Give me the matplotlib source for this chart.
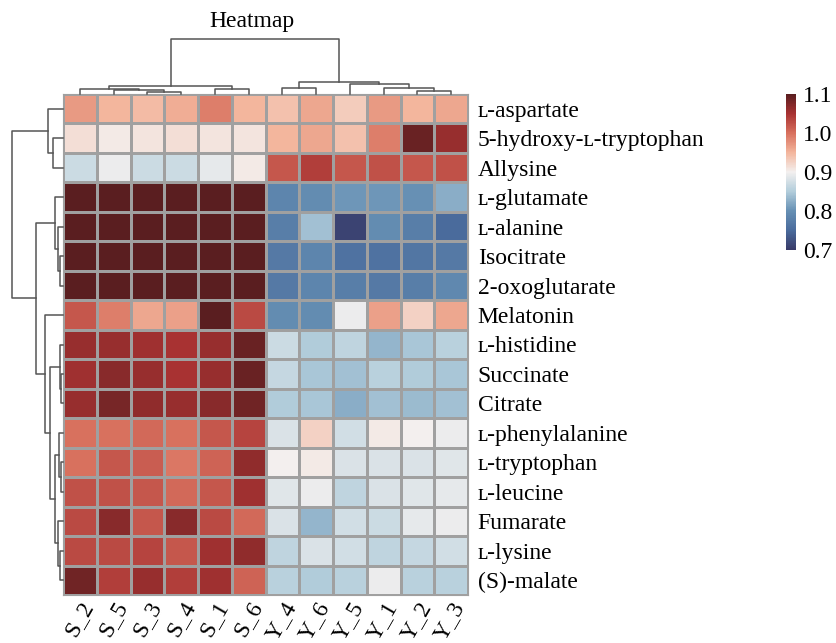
import numpy as np
import matplotlib
matplotlib.use("Agg")
import matplotlib.pyplot as plt
from matplotlib.colors import LinearSegmentedColormap, Normalize

# ---------------- data ----------------
columns = ["S_2", "S_5", "S_3", "S_4", "S_1", "S_6", "Y_4", "Y_6", "Y_5", "Y_1", "Y_2", "Y_3"]
rows = ["\u029F-aspartate", "5-hydroxy-\u029F-tryptophan", "Allysine", "\u029F-glutamate", "\u029F-alanine",
        "Isocitrate", "2-oxoglutarate", "Melatonin", "\u029F-histidine", "Succinate", "Citrate",
        "\u029F-phenylalanine", "\u029F-tryptophan", "\u029F-leucine", "Fumarate", "\u029F-lysine", "(S)-malate"]

aspartate     = [0.97, 0.95, 0.945, 0.955, 0.99, 0.95, 0.94, 0.96, 0.93, 0.97, 0.95, 0.96]
hydroxytrp    = [0.915, 0.905, 0.91, 0.915, 0.91, 0.91, 0.95, 0.96, 0.94, 0.99, 1.09, 1.06]
allysine      = [0.87, 0.895, 0.87, 0.87, 0.89, 0.905, 1.02, 1.04, 1.02, 1.025, 1.02, 1.025]
glutamate     = [1.10, 1.10, 1.10, 1.10, 1.12, 1.12, 0.785, 0.795, 0.805, 0.805, 0.80, 0.825]
alanine       = [1.12, 1.12, 1.12, 1.12, 1.12, 1.12, 0.775, 0.84, 0.71, 0.795, 0.775, 0.75]
isocitrate    = [1.12, 1.12, 1.12, 1.12, 1.12, 1.12, 0.77, 0.785, 0.76, 0.76, 0.765, 0.77]
oxoglutarate  = [1.12, 1.12, 1.12, 1.12, 1.12, 1.12, 0.77, 0.785, 0.775, 0.77, 0.775, 0.79]
melatonin     = [1.02, 0.99, 0.96, 0.965, 1.11, 1.03, 0.795, 0.795, 0.895, 0.965, 0.925, 0.96]
histidine     = [1.06, 1.06, 1.055, 1.05, 1.06, 1.09, 0.87, 0.85, 0.86, 0.83, 0.845, 0.855]
succinate     = [1.055, 1.07, 1.06, 1.05, 1.06, 1.09, 0.865, 0.845, 0.84, 0.855, 0.85, 0.845]
citrate       = [1.06, 1.08, 1.065, 1.06, 1.07, 1.085, 0.85, 0.845, 0.825, 0.84, 0.835, 0.84]
phenylalanine = [1.0, 1.0, 1.005, 1.0, 1.02, 1.035, 0.88, 0.925, 0.875, 0.905, 0.90, 0.895]
tryptophan    = [1.0, 1.02, 1.015, 0.995, 1.01, 1.065, 0.90, 0.905, 0.88, 0.88, 0.88, 0.885]
leucine       = [1.025, 1.025, 1.02, 1.005, 1.02, 1.055, 0.885, 0.895, 0.86, 0.88, 0.885, 0.89]
fumarate      = [1.03, 1.07, 1.02, 1.07, 1.03, 1.005, 0.88, 0.83, 0.875, 0.87, 0.89, 0.895]
lysine        = [1.03, 1.03, 1.035, 1.02, 1.055, 1.065, 0.86, 0.88, 0.875, 0.86, 0.865, 0.875]
malate        = [1.085, 1.04, 1.06, 1.04, 1.055, 1.01, 0.855, 0.85, 0.855, 0.895, 0.855, 0.855]

values = np.array([aspartate, hydroxytrp, allysine, glutamate, alanine, isocitrate, oxoglutarate,
                   melatonin, histidine, succinate, citrate, phenylalanine, tryptophan, leucine,
                   fumarate, lysine, malate])

# dendrogram trees: (left, right, merge height); leaves are indices into columns / rows
col_tree = ((0, (1, (2, 3, 0.04), 0.07), 0.09), (4, 5, 0.10), 0.145)
col_tree = (col_tree, ((6, 7, 0.11), (8, (9, (10, 11, 0.055), 0.11), 0.18), 0.22), 1.0)
row_tree_top = (0, (1, 2, 0.20), 0.29)
row_tree_glu = (3, (4, (5, 6, 0.06), 0.10), 0.16)
row_tree_rest = ((8, (9, 10, 0.03), 0.06),
                 ((11, (12, 13, 0.04), 0.08), (14, (15, 16, 0.06), 0.10), 0.16), 0.25)
row_tree = (row_tree_top, (row_tree_glu, (7, row_tree_rest, 0.35), 0.53), 1.0)

cbar_ticks = [0.7, 0.8, 0.9, 1.0, 1.1]

# ---------------- style ----------------
W, H = 837, 643
fig = plt.figure(figsize=(W / 100, H / 100), dpi=100)
serif = ["Liberation Serif", "DejaVu Serif"]
fs = 17

cmap = LinearSegmentedColormap.from_list("muted_rdbu", [
    (0.0, "#383a68"), (0.125, "#4a6b9c"), (0.25, "#6690b4"), (0.375, "#b2cddb"),
    (0.5, "#f3f0ef"), (0.625, "#f3b59c"), (0.75, "#d8705e"), (0.875, "#a83232"),
    (1.0, "#5a1e20")])
norm = Normalize(vmin=0.7, vmax=1.1)


def fx(px):
    return px / W


def fy(py):
    return 1 - py / H


hm_l, hm_r, hm_t, hm_b = 63, 468, 94, 595
ax = fig.add_axes([fx(hm_l), fy(hm_b), fx(hm_r - hm_l), (hm_b - hm_t) / H])
nr, nc = values.shape
ax.pcolormesh(np.arange(nc + 1), np.arange(nr + 1), values, cmap=cmap, norm=norm,
              edgecolors="#a0a0a0", linewidth=0.8)
ax.set_xlim(0, nc)
ax.set_ylim(nr, 0)
for s in ax.spines.values():
    s.set_edgecolor("#a0a0a0")
    s.set_linewidth(0.8)
ax.set_xticks(np.arange(nc) + 0.5)
ax.set_xticklabels(columns, rotation=60, ha="right", rotation_mode="anchor",
                   fontsize=fs, family=serif)
ax.tick_params(axis="x", length=0, pad=2)
ax.set_yticks(np.arange(nr) + 0.5)
ax.set_yticklabels(rows, fontsize=fs, family=serif)
ax.yaxis.tick_right()
ax.tick_params(axis="y", length=0, pad=7)

line_kw = dict(color="#555555", linewidth=1.1, clip_on=False)


def draw_tree(axd, node, orient):
    if not isinstance(node, tuple):
        return node + 0.5, 0.0
    a, b, h = node
    pa, ha = draw_tree(axd, a, orient)
    pb, hb = draw_tree(axd, b, orient)
    p = [pa, pa, pb, pb]
    q = [ha, h, h, hb]
    if orient == "top":
        axd.plot(p, q, **line_kw)
    else:
        axd.plot(q, p, **line_kw)
    return (pa + pb) / 2, h


# top dendrogram
axt = fig.add_axes([fx(hm_l), fy(hm_t), fx(hm_r - hm_l), (hm_t - 39) / H])
draw_tree(axt, col_tree, "top")
axt.set_xlim(0, nc)
axt.set_ylim(0, 1.0)
axt.axis("off")

# left dendrogram
axl = fig.add_axes([fx(12), fy(hm_b), fx(hm_l - 12), (hm_b - hm_t) / H])
draw_tree(axl, row_tree, "left")
axl.set_ylim(nr, 0)
axl.set_xlim(1.0, 0)
axl.axis("off")

# colorbar
cax = fig.add_axes([fx(786), fy(250), fx(10), (250 - 94) / H])
sm = matplotlib.cm.ScalarMappable(norm=norm, cmap=cmap)
cb = fig.colorbar(sm, cax=cax, ticks=cbar_ticks)
cb.outline.set_visible(False)
cax.tick_params(length=0, pad=5)
for t in cax.get_yticklabels():
    t.set_fontsize(fs)
    t.set_family(serif)

fig.text(fx(252), fy(22), "Heatmap", ha="center", va="center", fontsize=fs, family=serif)

fig.savefig("out.png", dpi=100)
